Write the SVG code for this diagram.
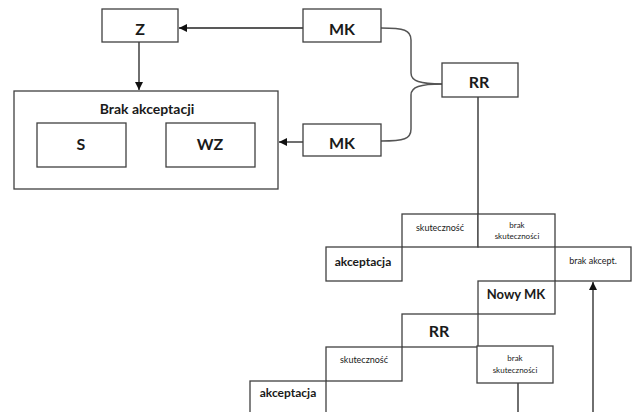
<svg xmlns="http://www.w3.org/2000/svg" width="636" height="412" viewBox="0 0 636 412">
<style>
.b{fill:#fff;stroke:#404040;stroke-width:1.3}
.t{font-family:Lato,"Liberation Sans",sans-serif;font-weight:bold;fill:#1a1a1a;text-anchor:middle}
.L{font-size:16px}
.M{font-size:14px}
.N{font-size:13px}
.s{font-size:12px}
.x{font-size:9px;font-weight:normal}
.xx{font-size:8px;font-weight:normal}
.c{fill:none;stroke:#555;stroke-width:1.5}
.k{fill:none;stroke:#222;stroke-width:1.3}
</style>
<defs>
<marker id="ah" viewBox="0 0 10 10" refX="10" refY="5" markerWidth="9" markerHeight="8" markerUnits="userSpaceOnUse" orient="auto">
<path d="M0,0 L10,5 L0,10 Z" fill="#111"/>
</marker>
</defs>
<rect width="636" height="412" fill="#fff"/>
<g id="connectors">
<path class="c" d="M381,28 C404,28 411,30 411,40 L411,73 C411,81 420,84 442,84"/>
<path class="c" d="M381,141 C404,141 411,139 411,129 L411,95 C411,87 420,84 442,84"/>
<line class="k" x1="303" y1="28" x2="179" y2="28" marker-end="url(#ah)"/>
<line class="k" x1="303" y1="142" x2="279" y2="142" marker-end="url(#ah)"/>
<line class="k" x1="139" y1="42" x2="139" y2="90" marker-end="url(#ah)"/>
<line class="k" x1="478" y1="97" x2="478" y2="214"/>
<line class="k" x1="518" y1="383" x2="518" y2="412"/>
<line class="k" x1="593" y1="412" x2="593" y2="282" marker-end="url(#ah)"/>
</g>
<g id="brak-akceptacji">
<rect class="b" x="14" y="91" width="264" height="98"/>
<text class="t M" x="147" y="114">Brak akceptacji</text>
</g>
<g id="S"><rect class="b" x="37" y="123" width="89" height="44"/><text class="t L" x="81" y="150">S</text></g>
<g id="WZ"><rect class="b" x="166" y="123" width="89" height="44"/><text class="t L" x="210" y="150">WZ</text></g>
<g id="Z"><rect class="b" x="102" y="9" width="76" height="33"/><text class="t L" x="140" y="35">Z</text></g>
<g id="MK1"><rect class="b" x="303" y="9" width="78" height="33"/><text class="t L" x="342" y="35">MK</text></g>
<g id="MK2"><rect class="b" x="303" y="124" width="78" height="32"/><text class="t L" x="342" y="149">MK</text></g>
<g id="RR1"><rect class="b" x="442" y="63" width="76" height="34"/><text class="t L" x="479" y="88">RR</text></g>
<g id="skutecznosc1"><rect class="b" x="402" y="214" width="76" height="33"/><text class="t x" x="440" y="231">skuteczność</text></g>
<g id="brak-skutecznosci1"><rect class="b" x="478" y="214" width="77" height="33"/><text class="t xx" x="517" y="228">brak</text><text class="t xx" x="517" y="239">skuteczności</text></g>
<g id="akceptacja1"><rect class="b" x="326" y="247" width="76" height="34"/><text class="t s" x="363" y="266">akceptacja</text></g>
<g id="brak-akcept"><rect class="b" x="555" y="247" width="76" height="34"/><text class="t x" x="593" y="264">brak akcept.</text></g>
<g id="nowy-mk"><rect class="b" x="478" y="281" width="77" height="33"/><text class="t N" x="516" y="299">Nowy MK</text></g>
<g id="RR2"><rect class="b" x="402" y="314" width="76" height="33"/><text class="t L" x="439" y="337">RR</text></g>
<g id="skutecznosc2"><rect class="b" x="326" y="347" width="76" height="34"/><text class="t x" x="364" y="363">skuteczność</text></g>
<g id="brak-skutecznosci2"><rect class="b" x="477" y="346" width="76" height="37"/><text class="t xx" x="515" y="361">brak</text><text class="t xx" x="515" y="373">skuteczności</text></g>
<g id="akceptacja2"><rect class="b" x="250" y="381" width="76" height="40"/><text class="t s" x="288" y="397">akceptacja</text></g>
</svg>
